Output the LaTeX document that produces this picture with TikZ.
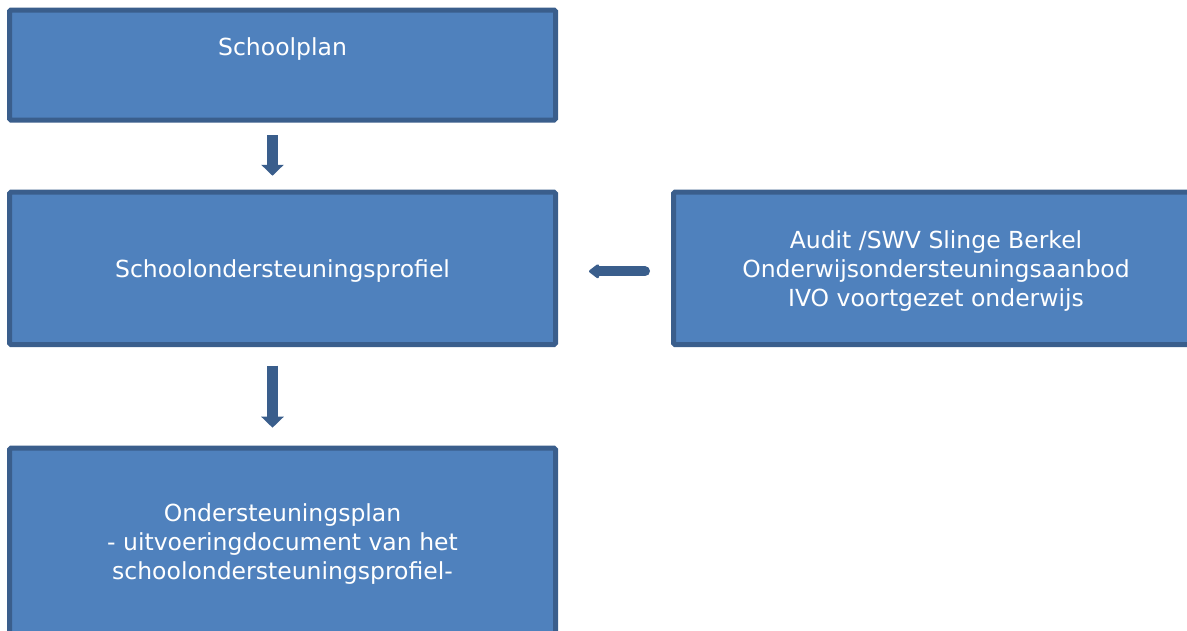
\documentclass[tikz,border=0pt]{standalone}
\usepackage{fontspec}
\setmainfont{DejaVu Sans}
\usetikzlibrary{arrows.meta,calc}
\definecolor{boxfill}{HTML}{4F81BD}
\definecolor{boxline}{HTML}{3A5E8C}
\newcommand{\omlaag}{\rule{0pt}{24pt}}
\begin{document}
\begin{tikzpicture}[x=1pt,y=-1pt,
  blok/.style={draw=boxline, fill=boxfill, line width=5pt, rounded corners=1.5pt,
    text=white, font=\fontsize{23.5}{29}\selectfont, align=center, inner sep=0pt},
  pijl/.style={draw=boxline, line width=11pt, -{Triangle[width=22pt,length=11pt]}},
  pijlklein/.style={draw=boxline, line width=10pt, line cap=round, -{Triangle[width=16pt,length=11pt,round]}}]
\useasboundingbox (0,0) rectangle (1187,630);
\clip (0,0) rectangle (1187,630);
\node[blok, minimum width=546pt, minimum height=110pt] (b1) at (282.5,65) {Schoolplan\\[7pt]\mbox{}};
\node[blok, minimum width=546pt, minimum height=152.5pt] (b2) at (282.5,268.3) {\omlaag Schoolondersteuningsprofiel};
\node[blok, minimum width=525pt, minimum height=152.5pt] (b3) at (936,268.3) {\omlaag Audit /SWV Slinge Berkel\\Onderwijsondersteuningsaanbod\\IVO voortgezet onderwijs};
\node[blok, minimum width=546pt, minimum height=187.6pt] (b4) at (282.5,542) {\rule{0pt}{22pt}Ondersteuningsplan\\- uitvoeringdocument van het\\schoolondersteuningsprofiel-};
\draw[pijl] ($(b1.south)+(-10,12.5)$) -- ($(b2.north)+(-10,-13.8)$);
\draw[pijl] ($(b2.south)+(-10,18.5)$) -- ($(b4.north)+(-10,-18)$);
\draw[pijlklein] ($(b3.west)+(-26,3)$) -- ($(b2.east)+(31,3)$);
\end{tikzpicture}
\end{document}
